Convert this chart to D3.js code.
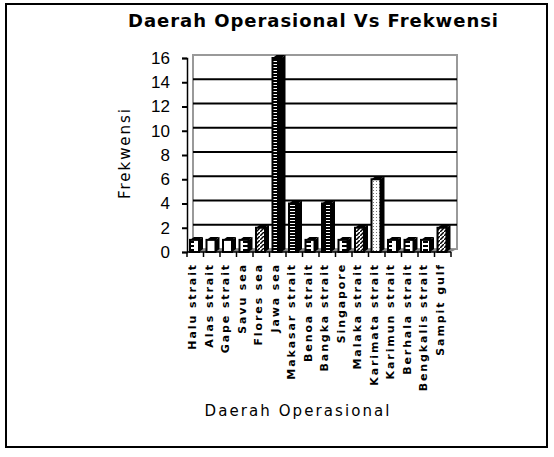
<!DOCTYPE html>
<html>
<head>
<meta charset="utf-8">
<script src="https://cdn.jsdelivr.net/npm/d3@7"></script>
<style>
  body { margin: 0; background: #fff; }
  svg { display: block; }
</style>
</head>
<body>
<div id="chart"></div>
<script>
// data
var daerah = ["Halu strait", "Alas strait", "Gape strait", "Savu sea", "Flores sea", "Jawa sea",
    "Makasar strait", "Benoa strait", "Bangka strait", "Singapore", "Malaka strait",
    "Karimata strait", "Karimun strait", "Berhala strait", "Bengkalis strait", "Sampit gulf"];
var frekwensi = [1, 1, 1, 1, 2, 16, 4, 1, 4, 1, 2, 6, 1, 1, 1, 2];
var yTicks = [0, 2, 4, 6, 8, 10, 12, 14, 16];
// fill pattern for each bar (black & white print of the excel colours)
var barPattern = ["pE", "pPlain", "pPlain", "pE", "pHatch", "pLadder", "pLadder", "pE",
    "pLadder", "pE", "pHatch", "pDots", "pE", "pE", "pE", "pHatch"];

var width = 554, height = 457;
var depthX = 6, depthY = 3;

var svg = d3.select("#chart").append("svg")
    .attr("width", width)
    .attr("height", height);

// patterns
var defs = svg.append("defs");
var pE = defs.append("pattern").attr("id", "pE").attr("patternUnits", "userSpaceOnUse")
    .attr("width", 9).attr("height", 4);
pE.append("rect").attr("width", 9).attr("height", 4).attr("fill", "#fff");
pE.append("rect").attr("x", 0).attr("y", 1).attr("width", 5).attr("height", 2).attr("fill", "#000");

var pPlain = defs.append("pattern").attr("id", "pPlain").attr("patternUnits", "userSpaceOnUse")
    .attr("width", 9).attr("height", 4);
pPlain.append("rect").attr("width", 9).attr("height", 4).attr("fill", "#fff");

var pHatch = defs.append("pattern").attr("id", "pHatch").attr("patternUnits", "userSpaceOnUse")
    .attr("width", 4).attr("height", 4);
pHatch.append("rect").attr("width", 4).attr("height", 4).attr("fill", "#fff");
pHatch.append("path").attr("d", "M0,4 L4,0").attr("stroke", "#000").attr("stroke-width", 1.5);

var pLadder = defs.append("pattern").attr("id", "pLadder").attr("patternUnits", "userSpaceOnUse")
    .attr("width", 9).attr("height", 3);
pLadder.append("rect").attr("width", 9).attr("height", 3).attr("fill", "#000");
pLadder.append("rect").attr("x", 2).attr("y", 1).attr("width", 5).attr("height", 1).attr("fill", "#fff");

var pDots = defs.append("pattern").attr("id", "pDots").attr("patternUnits", "userSpaceOnUse")
    .attr("width", 3).attr("height", 3);
pDots.append("rect").attr("width", 3).attr("height", 3).attr("fill", "#fff");
pDots.append("rect").attr("x", 1).attr("y", 1).attr("width", 1).attr("height", 1).attr("fill", "#777");

// outer frame
svg.append("rect")
    .attr("x", 6).attr("y", 4)
    .attr("width", 541).attr("height", 443)
    .attr("fill", "none")
    .attr("stroke", "#000")
    .attr("stroke-width", 2);

// scales
var x = d3.scaleBand().domain(daerah).range([187, 451]).padding(0);
var y = d3.scaleLinear().domain([0, 16]).range([252, 58]);

// back wall
var wallLeft = 187 + depthX, wallRight = 451 + depthX;
svg.append("rect")
    .attr("x", wallLeft).attr("y", y(16) - depthY)
    .attr("width", wallRight - wallLeft).attr("height", y(0) - y(16))
    .attr("fill", "#fff")
    .attr("stroke", "#999")
    .attr("stroke-width", 2);

// gridlines
svg.append("g").selectAll("line")
    .data(yTicks.filter(function (d) { return d > 0 && d < 16; }))
    .join("line")
    .attr("x1", wallLeft).attr("x2", wallRight)
    .attr("y1", function (d) { return y(d) - depthY; })
    .attr("y2", function (d) { return y(d) - depthY; })
    .attr("stroke", "#000")
    .attr("stroke-width", 2);

// floor
svg.append("polygon")
    .attr("points", [[187, y(0)], [451, y(0)], [wallRight, y(0) - depthY], [wallLeft, y(0) - depthY]].join(" "))
    .attr("fill", "#888");

// bars
var barW = 9;
var bars = svg.append("g").selectAll("g")
    .data(daerah)
    .join("g");

bars.append("polygon")
    .attr("points", function (d, i) {
        var bx = x(d) + 3, top = y(frekwensi[i]);
        return [[bx + barW, top], [bx + barW + 4, top - depthY], [bx + barW + 4, y(0) - depthY], [bx + barW, y(0)]].join(" ");
    })
    .attr("fill", "#000");

bars.append("polygon")
    .attr("points", function (d, i) {
        var bx = x(d) + 3, top = y(frekwensi[i]);
        return [[bx, top], [bx + 4, top - depthY], [bx + barW + 4, top - depthY], [bx + barW, top]].join(" ");
    })
    .attr("fill", "#000");

bars.append("rect")
    .attr("x", function (d) { return x(d) + 3; })
    .attr("y", function (d, i) { return y(frekwensi[i]); })
    .attr("width", barW)
    .attr("height", function (d, i) { return y(0) - y(frekwensi[i]); })
    .attr("fill", function (d, i) { return "url(#" + barPattern[i] + ")"; })
    .attr("stroke", "#000")
    .attr("stroke-width", 2);

// y axis
var yAxis = d3.axisLeft(y).tickValues(yTicks).tickSize(5).tickPadding(12);
var gy = svg.append("g").attr("transform", "translate(187,0)").call(yAxis);
gy.select(".domain").attr("stroke", "#000").attr("stroke-width", 1.5);
gy.selectAll(".tick line").attr("stroke", "#000").attr("stroke-width", 2);
gy.selectAll(".tick text")
    .attr("font-family", "Liberation Sans Narrow, Liberation Sans, Arial, sans-serif")
    .attr("font-size", 17)
    .attr("fill", "#000");

// x axis
var gx = svg.append("g").attr("transform", "translate(0," + y(0) + ")");
gx.append("line").attr("x1", 187).attr("x2", 451).attr("stroke", "#000").attr("stroke-width", 1.5);
gx.selectAll(".xt")
    .data(daerah.concat(["end"]))
    .join("line")
    .attr("class", "xt")
    .attr("x1", function (d, i) { return 187 + i * x.bandwidth(); })
    .attr("x2", function (d, i) { return 187 + i * x.bandwidth(); })
    .attr("y1", 0).attr("y2", 5)
    .attr("stroke", "#000").attr("stroke-width", 1.5);

gx.selectAll(".xl")
    .data(daerah)
    .join("text")
    .attr("class", "xl")
    .attr("transform", function (d) {
        return "translate(" + (x(d) + x.bandwidth() / 2 - 3) + ",11) rotate(-90)";
    })
    .attr("text-anchor", "end")
    .attr("dy", "0.35em")
    .attr("font-family", "DejaVu Sans, sans-serif")
    .attr("font-weight", "bold")
    .attr("font-size", 11)
    .attr("letter-spacing", 1.9)
    .text(function (d) { return d; });

// titles
svg.append("text")
    .attr("x", 313).attr("y", 27)
    .attr("text-anchor", "middle")
    .attr("font-family", "DejaVu Sans, sans-serif")
    .attr("font-weight", "bold")
    .attr("font-size", 18)
    .attr("textLength", 370)
    .attr("lengthAdjust", "spacing")
    .text("Daerah Operasional Vs Frekwensi");

svg.append("text")
    .attr("transform", "translate(130,154) rotate(-90)")
    .attr("text-anchor", "middle")
    .attr("font-family", "DejaVu Sans, sans-serif")
    .attr("font-size", 15)
    .attr("textLength", 90)
    .attr("lengthAdjust", "spacing")
    .text("Frekwensi");

svg.append("text")
    .attr("x", 297).attr("y", 416)
    .attr("text-anchor", "middle")
    .attr("font-family", "DejaVu Sans, sans-serif")
    .attr("font-size", 15)
    .attr("textLength", 185)
    .attr("lengthAdjust", "spacing")
    .text("Daerah Operasional");
</script>
</body>
</html>
